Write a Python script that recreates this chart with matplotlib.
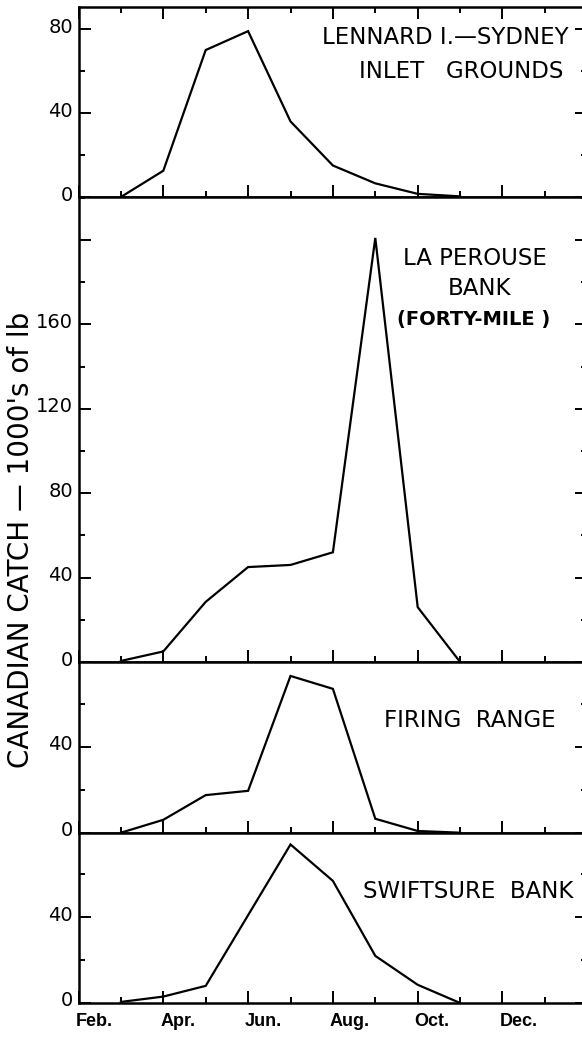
import matplotlib
matplotlib.use('Agg')
import matplotlib.pyplot as plt
from matplotlib.ticker import FixedLocator, FixedFormatter, MultipleLocator, NullFormatter
from matplotlib.transforms import ScaledTranslation

# ---- data (months: Mar=3 ... Nov=11) ----
months = [3, 4, 5, 6, 7, 8, 9, 10, 11]
lennard = [0, 12.5, 70, 79, 36, 15, 6.5, 1.5, 0.3]
la_perouse = [0.5, 5, 28.5, 45, 46, 52, 201, 26, 0]
firing_range = [0, 6, 17.5, 19.5, 73, 67, 6.5, 0.8, 0]
swiftsure = [0.5, 3, 8, 41, 74, 57, 22, 8.5, 0]

month_tick_pos = [2, 4, 6, 8, 10, 12, 14]
month_tick_labels = ['Feb.', 'Apr.', 'Jun.', 'Aug.', 'Oct.', 'Dec.', '']

W, H = 582, 1038
DPI = 100
fig = plt.figure(figsize=(W / DPI, H / DPI), dpi=DPI, facecolor='white')

LEFT_PX, RIGHT_PX = 78.5, 587.3
panels = [
    # (top_px, bottom_px, ymax, series)
    (7, 197, 90.5, lennard),
    (197, 662, 220.4, la_perouse),
    (662, 832.7, 79.5, firing_range),
    (832.7, 1003, 79.5, swiftsure),
]

LW_SPINE = 1.8
axes = []
for i, (top, bot, ymax, series) in enumerate(panels):
    ax = fig.add_axes([LEFT_PX / W, 1 - bot / H, (RIGHT_PX - LEFT_PX) / W, (bot - top) / H])
    ax.plot(months, series, color='black', lw=1.6, solid_joinstyle='miter')
    ax.set_xlim(2, 14)
    ax.set_ylim(0, ymax)
    for s in ax.spines.values():
        s.set_linewidth(LW_SPINE)
    ax.xaxis.set_major_locator(FixedLocator(month_tick_pos))
    ax.xaxis.set_minor_locator(FixedLocator([3, 5, 7, 9, 11, 13]))
    ax.yaxis.set_major_locator(MultipleLocator(40))
    ax.yaxis.set_minor_locator(MultipleLocator(20))
    last = (i == len(panels) - 1)
    ax.tick_params(axis='x', which='both', direction='in', bottom=True, top=(i == 0),
                   labelbottom=last, width=1.4)
    ax.tick_params(axis='y', which='both', direction='in', left=True, right=True, width=1.4)
    ax.tick_params(which='major', length=8.6)
    ax.tick_params(which='minor', length=4.3)
    ax.tick_params(axis='y', labelsize=14, pad=4)
    if last:
        ax.xaxis.set_major_formatter(FixedFormatter(month_tick_labels))
        ax.tick_params(axis='x', pad=7)
        for lab in ax.get_xticklabels():
            lab.set_fontfamily('Liberation Sans')
            lab.set_fontweight('bold')
            lab.set_fontsize(13)
            lab.set_horizontalalignment('left')
            lab.set_transform(lab.get_transform() + ScaledTranslation(-3 / DPI, 0, fig.dpi_scale_trans))
    else:
        ax.xaxis.set_major_formatter(NullFormatter())
    if i == 1:
        ax.yaxis.set_major_formatter(FixedFormatter(['0', '40', '80', '120', '160', '']))
        ax.yaxis.set_major_locator(FixedLocator([0, 40, 80, 120, 160, 200]))
    for lab in ax.get_yticklabels():
        lab.set_transform(lab.get_transform() + ScaledTranslation(0, 4 / DPI, fig.dpi_scale_trans))
    axes.append(ax)


def ftext(x, y, s, size=16.5, **kw):
    fig.text(x / W, 1 - y / H, s, fontsize=size, ha='center', va='baseline', color='black', **kw)


ftext(445, 44, 'LENNARD I.—SYDNEY')
ftext(461, 78.5, 'INLET   GROUNDS')
ftext(475, 265, 'LA PEROUSE')
ftext(479.5, 295, 'BANK')
ftext(473.5, 325, '(FORTY-MILE )', size=14, fontweight='bold')
ftext(469.5, 727, 'FIRING  RANGE')
ftext(468, 898, 'SWIFTSURE  BANK')

fig.text(21 / W, 1 - 540 / H, "CANADIAN CATCH — 1000's of lb", rotation=90,
         fontsize=20, ha='center', va='center', color='black')

fig.savefig('out.png', dpi=DPI, facecolor='white')
